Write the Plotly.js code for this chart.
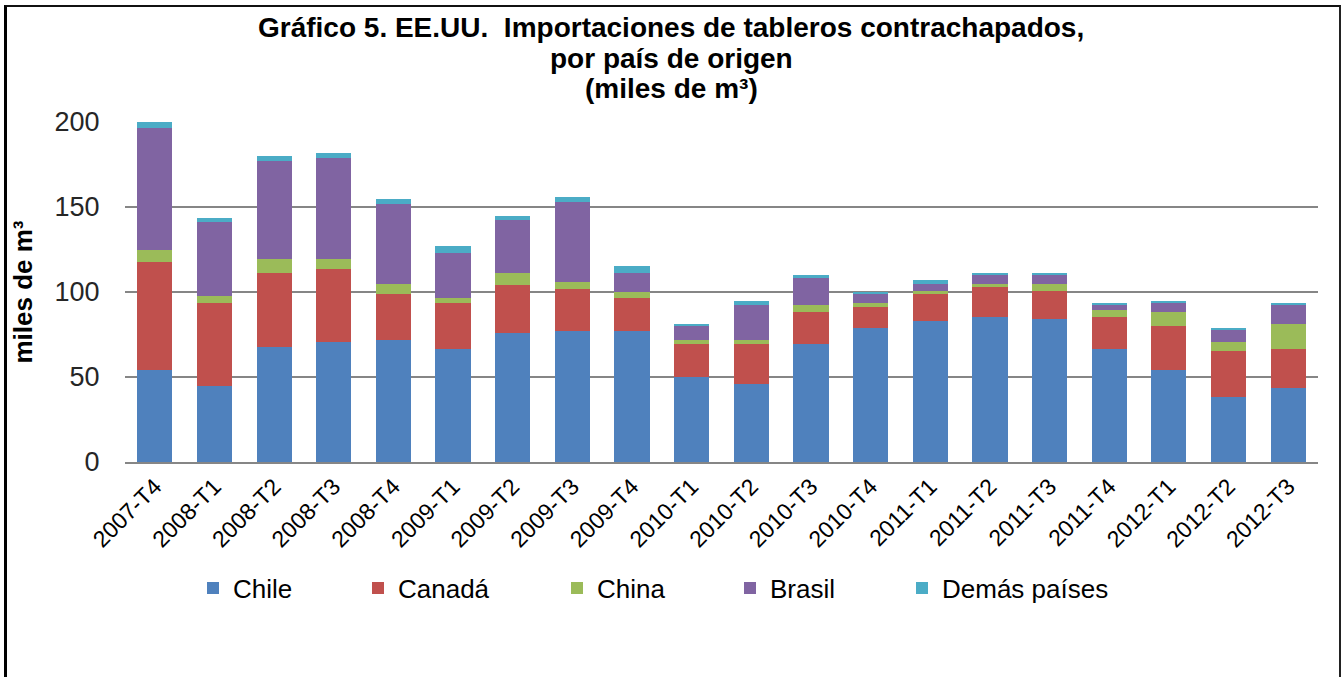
<!DOCTYPE html>
<html>
<head>
<meta charset="utf-8">
<script src="https://cdn.plot.ly/plotly-3.0.1.min.js"></script>
<style>
  html, body { margin: 0; padding: 0; background: #fff; }
  #wrap { position: relative; width: 1341px; height: 677px; overflow: hidden; }
  #chart { position: absolute; left: 0; top: 0; width: 1341px; height: 677px; }
  #frame { position: absolute; left: 4px; top: 5px; width: 1332px; height: 700px;
           border-left: 3px solid #000; border-top: 2px solid #111; border-right: 2px solid #222;
           pointer-events: none; }
</style>
</head>
<body>
<div id="wrap">
  <div id="chart"></div>
  <div id="frame"></div>
</div>
<script>
const categories = ["2007-T4","2008-T1","2008-T2","2008-T3","2008-T4","2009-T1","2009-T2","2009-T3","2009-T4","2010-T1","2010-T2","2010-T3","2010-T4","2011-T1","2011-T2","2011-T3","2011-T4","2012-T1","2012-T2","2012-T3"];
const chile   = [54.4, 44.7, 67.9, 70.6, 72.0, 66.5, 75.9, 77.3, 77.3, 50.2, 46.1, 69.2, 78.6, 82.8, 85.3, 84.1, 66.5, 54.4, 38.1, 43.5];
const canada  = [63.5, 49.1, 43.3, 43.1, 27.0, 26.9, 28.5, 24.5, 19.0, 19.0, 23.1, 19.0, 12.4, 16.2, 17.9, 16.3, 19.0, 25.6, 27.0, 23.0];
const china   = [6.8, 4.1, 8.0, 5.7, 5.5, 2.9, 6.8, 3.9, 3.9, 2.8, 2.8, 4.0, 2.5, 1.4, 1.3, 4.1, 4.1, 8.2, 5.5, 14.9];
const brasil  = [71.6, 43.1, 58.1, 59.4, 47.3, 26.9, 31.2, 47.5, 11.0, 8.2, 20.2, 16.3, 5.5, 4.1, 5.5, 5.5, 2.8, 5.6, 6.9, 11.0];
const demas   = [4.1, 2.8, 2.7, 2.8, 2.7, 4.1, 2.5, 2.7, 4.1, 1.2, 2.7, 1.3, 1.0, 2.8, 1.2, 1.2, 1.4, 1.1, 1.1, 1.4];
const seriesNames = ["Chile", "Canadá", "China", "Brasil", "Demás países"];
const yTicks = [0, 50, 100, 150, 200];
const titleLines = ["Gráfico 5. EE.UU.\u00A0 Importaciones de tableros contrachapados,", "por país de origen", "(miles de m³)"];
const yTitle = "miles de m³";

const colors = ["#4F81BD", "#C0504D", "#9BBB59", "#8064A2", "#4BACC6"];
const values = [chile, canada, china, brasil, demas];
const legendIds = ["legend", "legend2", "legend3", "legend4", "legend5"];
// left edge (px) of each legend entry, as in the reference
const legendLeft = [193, 358, 557, 730, 902];

const traces = values.map((v, i) => ({
  type: "bar",
  name: seriesNames[i],
  x: categories,
  y: v,
  legend: legendIds[i],
  marker: { color: colors[i], line: { width: 0 } },
  hoverinfo: "x+y+name"
}));

const fontMain = "Liberation Sans, Arial, sans-serif";

// plot area: top 122px, bottom 462px => paper y = (462 - py) / 340
const toPaperY = py => (462 - py) / 340;
const titleCenters = [27, 58, 89];
const annotations = titleLines.map((t, i) => ({
  text: "<b>" + t + "</b>",
  xref: "paper", yref: "paper",
  x: (671 - 125) / 1193,
  y: toPaperY(titleCenters[i]),
  xanchor: "center", yanchor: "middle",
  showarrow: false,
  font: { family: fontMain, size: 28, color: "#000" }
}));

const layout = {
  width: 1341,
  height: 677,
  barmode: "stack",
  bargap: 0.41,
  paper_bgcolor: "#fff",
  plot_bgcolor: "#fff",
  margin: { l: 125, r: 23, t: 122, b: 215 },
  annotations: annotations,
  xaxis: {
    type: "category",
    tickangle: -45,
    tickfont: { family: fontMain, size: 23, color: "#000" },
    showgrid: false,
    showline: true,
    linecolor: "#868686",
    linewidth: 2,
    ticks: "",
    fixedrange: true
  },
  yaxis: {
    range: [0, 200],
    tickvals: yTicks,
    ticktext: yTicks.map(String),
    tickfont: { family: fontMain, size: 27, color: "#262626" },
    showgrid: true,
    gridcolor: "#868686",
    gridwidth: 2,
    zeroline: false,
    showline: false,
    ticks: "outside",
    ticklen: 19,
    tickcolor: "rgba(0,0,0,0)",
    title: {
      text: "<b>" + yTitle + "</b>",
      font: { family: fontMain, size: 26, color: "#000" },
      standoff: 14
    },
    fixedrange: true
  },
  showlegend: true
};

legendIds.forEach((id, i) => {
  layout[id] = {
    orientation: "h",
    xref: "container", x: legendLeft[i] / 1341,
    yref: "container", y: 1 - 588 / 677,
    xanchor: "left",
    yanchor: "middle",
    bgcolor: "rgba(0,0,0,0)",
    font: { family: fontMain, size: 26, color: "#000" }
  };
});

Plotly.newPlot("chart", traces, layout, { displayModeBar: false, staticPlot: true });
</script>
</body>
</html>
